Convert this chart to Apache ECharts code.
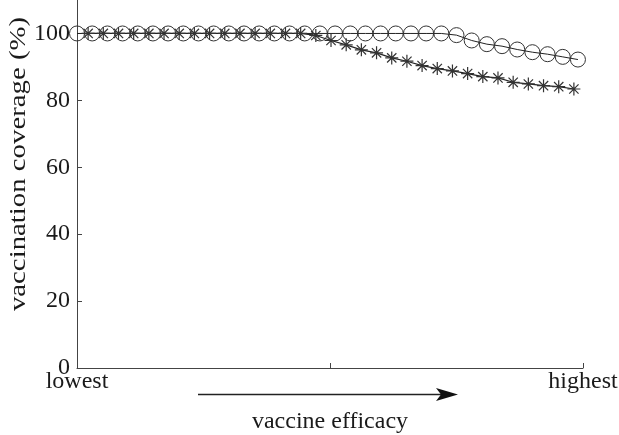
<!DOCTYPE html>
<html>
<head>
<meta charset="utf-8">
<script src="https://cdn.jsdelivr.net/npm/echarts@6/dist/echarts.min.js"></script>
<style>html,body{margin:0;padding:0;background:#fff;}#c{width:619px;height:435px;}</style>
</head>
<body>
<div id="c"></div>
<script>
// x positions (0 = lowest efficacy, 1 = highest efficacy)
var circleX = [0.000,0.030,0.060,0.090,0.120,0.150,0.180,0.210,0.240,0.270,0.300,0.330,0.360,0.390,0.420,0.450,0.480,0.510,0.540,0.570,0.600,0.630,0.660,0.690,0.720,0.750,0.780,0.810,0.840,0.870,0.900,0.930,0.960,0.990];
var circleY = [100,100,100,100,100,100,100,100,100,100,100,100,100,100,100,100,100,100,100,100,100,100,100,100,100,99.5,97.9,96.8,96.2,95.2,94.4,93.8,93.0,92.2];
var starX = [0.022,0.052,0.082,0.112,0.142,0.172,0.202,0.232,0.262,0.292,0.322,0.352,0.382,0.412,0.442,0.472,0.502,0.532,0.562,0.592,0.622,0.652,0.682,0.712,0.742,0.772,0.802,0.832,0.862,0.892,0.922,0.952,0.982];
var starY = [100,100,100,100,100,100,100,100,100,100,100,100,100,100,100,99.4,97.9,96.6,95.1,94.2,92.7,91.7,90.4,89.5,88.8,88.0,87.1,86.7,85.4,84.9,84.4,84.1,83.4];
var yTicks = [0,20,40,60,80,100];
var xLabels = {0:'lowest',1:'highest'};
var yName = 'vaccination coverage (%)';
var xName = 'vaccine efficacy';

function pairs(xs, ys){ return xs.map(function(x,i){return [x, ys[i]];}); }

var FONT = '"Liberation Serif", "Times New Roman", Times, serif';
var ink = '#1a1a1a';
var chart = echarts.init(document.getElementById('c'), null, {renderer:'canvas'});
chart.setOption({
  animation: false,
  backgroundColor: '#fff',
  grid: {left: 77, right: 36, top: 0, bottom: 67, containLabel: false, outerBoundsMode: 'none'},
  xAxis: {
    type: 'value', min: 0, max: 1, interval: 0.5,
    name: xName, nameLocation: 'middle', nameGap: 42,
    nameTextStyle: {fontFamily: FONT, fontSize: 24, color: ink},
    axisLine: {show: true, lineStyle: {color: '#444', width: 1}},
    axisTick: {show: true, inside: true, length: 5, lineStyle: {color: '#444'}},
    axisLabel: {
      margin: 2, fontFamily: FONT, fontSize: 24, color: ink,
      formatter: function(v){ return xLabels[v] || ''; }
    },
    splitLine: {show: false}
  },
  yAxis: {
    type: 'value', min: 0, max: 110, interval: 20,
    axisLine: {show: true, lineStyle: {color: '#444', width: 1}},
    axisTick: {show: true, inside: true, length: 5, lineStyle: {color: '#444'}, customValues: [20,40,60,80,100]},
    axisLabel: {
      margin: 7, fontFamily: FONT, fontSize: 24, color: ink, customValues: yTicks,
      formatter: function(v){ return yTicks.indexOf(v) >= 0 ? String(v) : ''; }
    },
    splitLine: {show: false}
  },
  series: [
    {
      type: 'line', data: pairs(circleX, circleY), clip: false,
      symbol: 'circle', symbolSize: 15,
      lineStyle: {color: '#222', width: 1},
      itemStyle: {color: 'rgba(0,0,0,0)', borderColor: '#333', borderWidth: 1}
    },
    {
      type: 'line', data: pairs(starX, starY), clip: false,
      symbol: 'path://M0,-6L0,6M-6,0L6,0M-4.3,-4.3L4.3,4.3M-4.3,4.3L4.3,-4.3',
      symbolSize: 13,
      lineStyle: {color: '#222', width: 1.2},
      itemStyle: {color: 'rgba(0,0,0,0)', borderColor: '#333', borderWidth: 1.2}
    }
  ],
  graphic: [
    {
      type: 'text', x: 19, y: 164, rotation: Math.PI/2, scaleX: 1.2,
      style: {text: yName, fontFamily: FONT, fontSize: 24, fill: ink, textAlign: 'center', textVerticalAlign: 'middle'}
    },
    {
      type: 'line', shape: {x1: 198, y1: 394.5, x2: 443, y2: 394.5},
      style: {stroke: '#222', lineWidth: 1.3}
    },
    {
      type: 'polygon', shape: {points: [[436,388],[458,394.5],[436,401],[441,394.5]]},
      style: {fill: '#111'}
    }
  ]
});
</script>
</body>
</html>
